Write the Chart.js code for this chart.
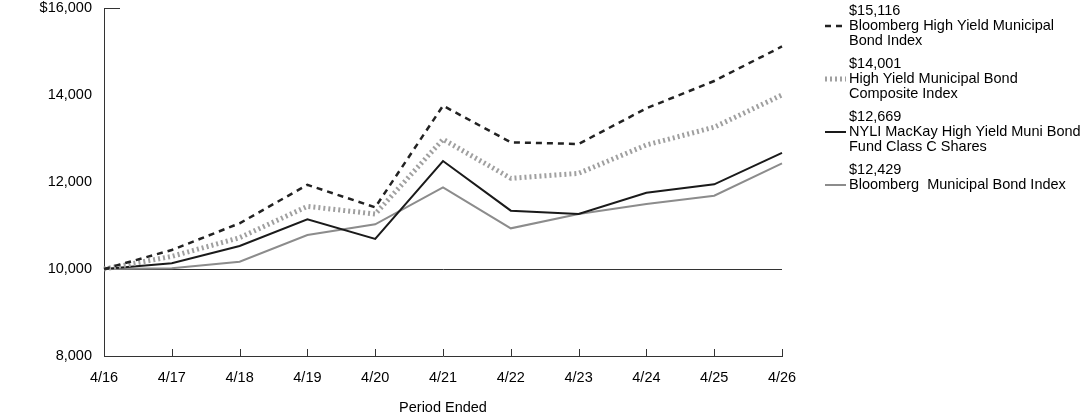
<!DOCTYPE html>
<html>
<head>
<meta charset="utf-8">
<script src="https://cdn.jsdelivr.net/npm/chart.js"></script>
<style>
  html, body { margin: 0; padding: 0; background: #fff; }
  #wrap { width: 1092px; height: 417px; position: relative; }
</style>
</head>
<body>
<div id="wrap"><canvas id="chart"></canvas></div>
<script>
const periods = ["4/16", "4/17", "4/18", "4/19", "4/20", "4/21", "4/22", "4/23", "4/24", "4/25", "4/26"];
const hyMuniIndex = [10000, 10437, 11050, 11935, 11418, 13754, 12912, 12874, 13694, 14322, 15116];
const compositeIndex = [10000, 10290, 10720, 11440, 11264, 12981, 12085, 12199, 12851, 13260, 14001];
const fundClassC = [10000, 10131, 10529, 11142, 10690, 12483, 11341, 11264, 11754, 11946, 12669];
const muniIndex = [10000, 10016, 10168, 10782, 11027, 11878, 10935, 11264, 11494, 11685, 12429];
const yTicks = [8000, 10000, 12000, 14000, 16000];
const endLabels = ["$15,116", "$14,001", "$12,669", "$12,429"];
const legendNames = [
  ["Bloomberg High Yield Municipal", "Bond Index"],
  ["High Yield Municipal Bond", "Composite Index"],
  ["NYLI MacKay High Yield Muni Bond", "Fund Class C Shares"],
  ["Bloomberg  Municipal Bond Index"],
];

const FONT = "Arial, 'Liberation Sans', sans-serif";
const FONT_SIZE = 14.5;

// inward tick marks, the short top stub and the side legend
const extras = {
  id: "extras",
  afterDraw(chart) {
    const { ctx, chartArea, scales } = chart;
    const x = scales.x;
    ctx.save();
    ctx.strokeStyle = "#333";
    ctx.lineWidth = 1;
    ctx.beginPath();
    periods.forEach((p, i) => {
      const px = Math.round(x.getPixelForValue(i)) + 0.5;
      ctx.moveTo(px, chartArea.bottom);
      ctx.lineTo(px, chartArea.bottom - 7);
    });
    ctx.moveTo(chartArea.left, chartArea.top + 0.5);
    ctx.lineTo(chartArea.left + 16, chartArea.top + 0.5);
    ctx.stroke();

    // legend
    ctx.font = FONT_SIZE + "px " + FONT;
    ctx.fillStyle = "#000";
    ctx.textBaseline = "middle";
    ctx.textAlign = "left";
    const textX = 849;
    chart.data.datasets.forEach((ds, i) => {
      const top = 11 + i * 53;
      ctx.fillText(endLabels[i], textX, top);
      legendNames[i].forEach((line, j) => ctx.fillText(line, textX, top + 15 * (j + 1)));
      const sy = top + 15;
      ctx.beginPath();
      ctx.strokeStyle = ds.borderColor;
      ctx.lineWidth = ds.borderWidth;
      ctx.lineCap = "butt";
      ctx.setLineDash(ds.borderDash || []);
      ctx.moveTo(825, sy);
      ctx.lineTo(846, sy);
      ctx.stroke();
    });
    ctx.restore();
  },
};

new Chart(document.getElementById("chart"), {
  type: "line",
  data: {
    labels: periods,
    datasets: [
      {
        label: "Bloomberg High Yield Municipal Bond Index",
        data: hyMuniIndex,
        borderColor: "#222",
        borderWidth: 2.5,
        borderDash: [6, 5],
      },
      {
        label: "High Yield Municipal Bond Composite Index",
        data: compositeIndex,
        borderColor: "#a0a0a0",
        borderWidth: 5,
        borderDash: [2, 3],
      },
      {
        label: "NYLI MacKay High Yield Muni Bond Fund Class C Shares",
        data: fundClassC,
        borderColor: "#1a1a1a",
        borderWidth: 2,
      },
      {
        label: "Bloomberg Municipal Bond Index",
        data: muniIndex,
        borderColor: "#8c8c8c",
        borderWidth: 2,
      },
    ],
  },
  options: {
    responsive: true,
    maintainAspectRatio: false,
    animation: false,
    layout: { padding: { top: 8, right: 310, left: 0, bottom: 0 } },
    elements: { point: { radius: 0 }, line: { tension: 0, borderCapStyle: "butt" } },
    plugins: { legend: { display: false }, tooltip: { enabled: false } },
    scales: {
      x: {
        grid: { display: false },
        border: { color: "#333", width: 1 },
        ticks: { color: "#000", font: { family: FONT, size: FONT_SIZE }, padding: 5, maxRotation: 0 },
        title: {
          display: true,
          text: "Period Ended",
          color: "#000",
          font: { family: FONT, size: FONT_SIZE },
          padding: { top: 14, bottom: 0 },
        },
        afterFit(scale) { scale.height = 61; },
      },
      y: {
        min: 8000,
        max: 16000,
        afterBuildTicks(scale) { scale.ticks = yTicks.map((v) => ({ value: v })); },
        grid: {
          drawTicks: false,
          color: (c) => (c.tick && c.tick.value === 10000 ? "#333" : "rgba(0,0,0,0)"),
        },
        border: { color: "#333", width: 1 },
        ticks: {
          color: "#000",
          font: { family: FONT, size: FONT_SIZE },
          padding: 12,
          callback: (v) => (v === 16000 ? "$" : "") + v.toLocaleString("en-US"),
        },
        afterFit(scale) {
          scale.width = 104;
          scale.paddingTop = 0;
          scale.paddingBottom = 0;
        },
      },
    },
  },
  plugins: [extras],
});
</script>
</body>
</html>
